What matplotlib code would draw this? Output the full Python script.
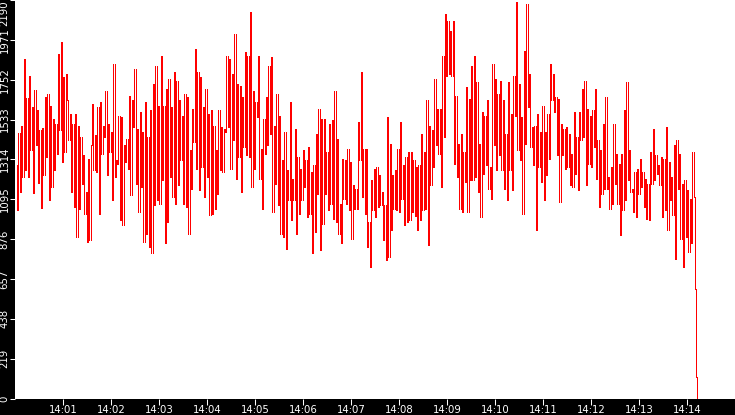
import numpy as np
import matplotlib
matplotlib.use("Agg")
import matplotlib.pyplot as plt

# ---- data (consecutive samples) ----
vals_a = [1281, 1035, 1457, 1133, 1500, 1216, 1868, 1254, 1649, 1216, 1775, 1363, 1600, 1127,
          1693, 1391, 1583, 1183, 1474, 1045, 1484]

vals_b = [1226, 1656, 1327, 1674, 1089, 1610, 1162, 1537, 1254, 1510,
          1345, 1894, 1473, 1958, 1299, 1766, 1354, 1784, 1638, 1418,
          1564, 1135, 1510, 1053, 1564, 888, 1500, 1043, 1436, 1181,
          1336, 1016, 1135, 861, 1318, 870, 1391, 1619, 1254, 1446,
          1245, 1601, 1016, 1628, 1345, 1500, 1437, 1692, 1226, 1510,
          1354, 1464, 1089, 1839, 1217, 1309, 1290, 1555, 980, 1546,
          952, 1391, 1299, 1427, 1263, 1665, 1117, 1638, 1491, 1811,
          1181, 1482, 1025, 1574,
          1162, 1464, 861, 1628, 906, 1436, 833, 1583, 797, 1729, 1062, 1830, 1089, 1610, 1071, 1884]

vals_c = [1199, 1610, 852, 1702, 970, 1757, 1217, 1601,
          1107, 1793, 1071, 1747, 1171, 1638, 1309, 1555,
          1071, 1674, 1053, 1656, 906, 1363, 1153, 1592,
          1409, 1921, 1263, 1793, 1144, 1766, 1272, 1601, 1107, 1702,
          1217, 1564, 1007, 1583, 1016, 1500, 1043, 1363,
          1126, 1583, 1254, 1491, 1245, 1482, 1464, 1884,
          1491, 1866, 1263, 1784, 1418, 2003,
          1208, 1729, 1327, 1720, 1135, 1656, 1382, 1903,
          1336, 1884, 1327, 2122, 1162, 1692, 1263, 1628,
          1546, 1884, 1208, 1372, 1043, 1537,
          1345, 1656, 1391, 1830, 1455, 1875, 1025, 1500, 1181, 1674,
          1062, 1555, 906, 1309, 888, 1464, 824, 1254,
          1089, 1628, 980, 1208, 1089, 1482, 906, 1327,
          1016]

vals_d = [1263, 1089, 1363, 1162, 1309, 998, 1382, 1016, 1245, 797,
          1281, 916, 1455, 1126, 1592, 815, 1537, 961, 1537, 1126,
          1354, 1034, 1510, 1071, 1528, 989, 1692, 970, 1427, 906,
          1071, 852, 1318, 1098, 1309, 1071, 1372, 1034, 1299, 879,
          1171, 1043, 1153, 1043, 1519, 1309, 1793, 1107, 1372, 1016,
          1372, 833, 970, 724, 1199, 1034, 1263, 998, 1272, 1053,
          1226, 1062, 1135, 870, 1062, 760, 1546, 778, 1400, 925,
          1226, 1043, 1254, 1034, 1372, 1025, 1519, 1098, 1281, 952,
          1327, 970, 1354, 980, 1354, 1025, 1309, 1001, 1272, 925,
          1281, 980, 1455, 1034, 1354, 1043, 1638, 842, 1500, 1171,
          1473, 1272, 1757, 1391, 1592]

vals_e = [1345, 1592, 1162, 1884, 1437, 2113, 1775, 2076, 1784, 2021,
          1775, 2076, 1290, 1665, 1217, 1400, 1043, 1455, 1025, 1354,
          1190, 1711, 1025, 1647, 1199, 1830, 1199, 1884, 1217, 1738,
          1135, 1400, 998, 1574, 1235, 1555, 1281, 1638, 1153, 1272,
          1098, 1839, 1391, 1757, 1254, 1674, 1336, 1747, 1254, 1638,
          1153, 1455, 1089, 1738, 1254, 1564, 1144, 1775, 1555, 2180,
          1363, 1729, 1309, 1546, 1016, 1912, 1400, 2168, 1601, 1784,
          1382, 1491, 1281, 1500, 925, 1564, 1272, 1464, 1190, 1610,
          1089, 1464, 1226, 1564, 1318, 1839, 1638, 1784, 1574, 1656,
          1336, 1647, 1080, 1510, 1336, 1482, 1263, 1491, 1272, 1455,
          1171, 1345, 1162, 1574, 1235]

vals_f = [1436, 1144, 1574, 1418, 1702, 1437, 1747, 1171, 1592, 1290,
          1555, 1272, 1583, 1382, 1702, 1208, 1418, 1053, 1363, 1126,
          1510, 1153, 1656, 1153, 1217, 1043, 1272, 1071, 1510, 1181,
          1345, 1071, 1290, 897, 1345, 1034, 1583, 1089, 1738, 1199,
          1363, 1135, 1153, 1025, 1245, 998, 1263, 1126, 1318, 1162,
          1245, 1053, 1208, 989, 1181, 980, 1354, 1181, 1482, 1199,
          1336, 1235, 1281, 1171, 1327, 998, 1318, 1034, 1491, 925,
          1299, 1089, 1217, 1007, 1391, 769, 1418, 1153, 1345, 879,
          1181, 724, 1199, 888, 1144, 806, 1098, 852, 1354, 1107,
          600, 120, 0]

# sampling: seconds after 14:00:00
t_start = 1.0
t_step = 1.645

x_tick_seconds = [60 * m for m in range(1, 15)]
x_tick_labels = ["14:01", "14:02", "14:03", "14:04", "14:05", "14:06", "14:07",
                 "14:08", "14:09", "14:10", "14:11", "14:12", "14:13", "14:14"]
y_ticks = [0, 219, 438, 657, 876, 1095, 1314, 1533, 1752, 1971, 2190]
y_tick_labels = ["0", "219", "438", "657", "876", "1095", "1314", "1533", "1752", "1971", "2190"]

# ---- drawing ----
values = np.concatenate([vals_a, vals_b, vals_c, vals_d, vals_e, vals_f]).astype(float)
times = t_start + t_step * np.arange(len(values))

W, H = 735, 415
fig = plt.figure(figsize=(W / 100, H / 100), dpi=100, facecolor="black")
ax = fig.add_axes([15 / W, 16.5 / H, 720 / W, 398.5 / H])
ax.set_facecolor("white")

# each transition between consecutive samples is drawn as a 1-px vertical stroke
ax.vlines(times[1:], values[:-1], values[1:], colors="#ff0000",
          linewidth=0.6, antialiased=False)

ax.set_xlim(0, 900)
ax.set_ylim(0, 2190)
for s in ax.spines.values():
    s.set_visible(False)

ax.set_xticks(x_tick_seconds)
ax.set_xticklabels(x_tick_labels)
ax.set_yticks(y_ticks)
ax.set_yticklabels(y_tick_labels)

ax.tick_params(axis="x", colors="white", direction="out", length=4.3, width=0.75,
               labelsize=7.3, pad=0.4)
ax.tick_params(axis="y", colors="white", direction="out", length=3.6, width=0.75,
               labelsize=7.3, pad=0.2)
for lab in ax.get_xticklabels():
    lab.set_family("DejaVu Sans")
ylabs = ax.get_yticklabels()
for lab in ylabs:
    lab.set_rotation(90)
    lab.set_va("center")
    lab.set_ha("right")
    lab.set_family("DejaVu Sans")
ylabs[-1].set_va("top")

fig.savefig("out.png", dpi=100, facecolor="black")
